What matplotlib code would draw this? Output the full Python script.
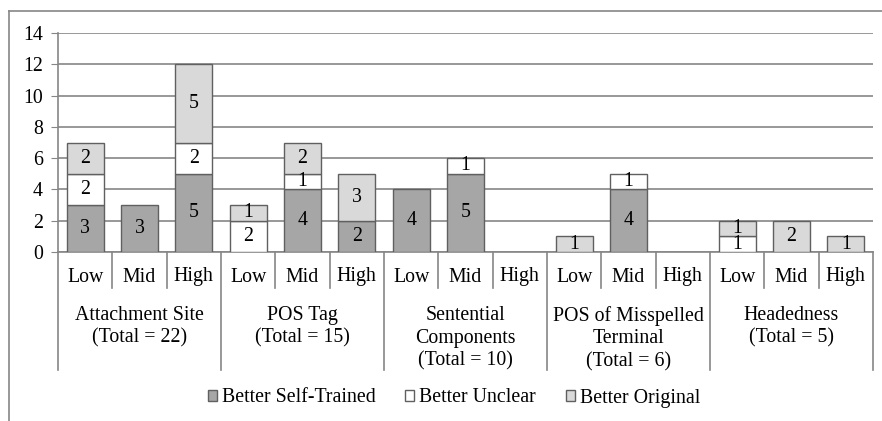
import numpy as np
import matplotlib.pyplot as plt
from matplotlib.lines import Line2D
import matplotlib.transforms as mtransforms

plt.rcParams['font.family'] = ['Liberation Serif', 'DejaVu Serif']

# data
groups = ["Attachment Site\n(Total = 22)", "POS Tag\n(Total = 15)",
          "Sentential\nComponents\n(Total = 10)", "POS of Misspelled\nTerminal\n(Total = 6)",
          "Headedness\n(Total = 5)"]
levels = ["Low", "Mid", "High"]
self_trained = [3, 3, 5, 0, 4, 2, 4, 5, 0, 0, 4, 0, 0, 0, 0]
unclear = [2, 0, 2, 2, 1, 0, 0, 1, 0, 0, 1, 0, 1, 0, 0]
original = [2, 0, 5, 1, 2, 3, 0, 0, 0, 1, 0, 0, 1, 2, 1]
series_names = ["Better Self-Trained", "Better Unclear", "Better Original"]
colors = ["#a6a6a6", "#ffffff", "#d9d9d9"]

W, H = 882, 421
fig = plt.figure(figsize=(W / 100, H / 100), dpi=100)
ax = fig.add_axes([58 / W, 1 - 252 / H, (873 - 58) / W, (252 - 33) / H])

fs = 14.3
gray = "#868686"
edge = "#606060"
x = np.arange(len(self_trained))
bottom = np.zeros(len(x))
for vals, col, name in zip([self_trained, unclear, original], colors, series_names):
    vals = np.array(vals, dtype=float)
    heights = np.where(vals > 0, vals, np.nan)  # skip empty segments
    ax.bar(x, heights, 0.68, bottom=bottom, color=col, edgecolor=edge, linewidth=1.0,
           label=name, zorder=3)
    for xi, b, v in zip(x, bottom, vals):
        if v > 0:
            ax.text(xi, b + v / 2, str(int(v)), ha="center", va="center", fontsize=fs, zorder=4)
    bottom = bottom + vals

ax.set_xlim(-0.5, len(x) - 0.5)
ax.set_ylim(0, 14)
ax.set_yticks(range(0, 15, 2))
ax.yaxis.grid(True, color=gray, linewidth=1.2)
ax.set_axisbelow(True)
ax.tick_params(axis="y", length=5, color=gray, labelsize=fs, pad=6)
ax.set_xticks([])
for s in ["top", "right"]:
    ax.spines[s].set_visible(False)
for s in ["left", "bottom"]:
    ax.spines[s].set_color(gray)
    ax.spines[s].set_linewidth(1.2)

# category axis: level labels, group labels and separators
trans = mtransforms.blended_transform_factory(ax.transData, ax.transAxes)
ah = 252 - 33
def yfrac(py):
    return (252 - py) / ah

for i, xi in enumerate(x):
    ax.text(xi, yfrac(277), levels[i % 3], ha="center", va="center", fontsize=fs,
            transform=trans)
for b in np.arange(len(x) + 1) - 0.5:
    if (b + 0.5) % 3 == 0:
        y_end = yfrac(370)
    else:
        y_end = yfrac(288)
    ax.plot([b, b], [0, y_end], color=gray, linewidth=1.2, transform=trans, clip_on=False)
for g, name in enumerate(groups):
    ax.text(g * 3 + 1, yfrac(306), name, ha="center", va="top", fontsize=fs,
            linespacing=1.25, transform=trans)

fig.legend(loc="center", bbox_to_anchor=(454 / W, 1 - 398 / H), ncol=3, frameon=False,
           fontsize=fs, handlelength=0.45, handleheight=0.45, handletextpad=0.25,
           columnspacing=1.5)

# outer chart border (top and left visible)
fig.add_artist(Line2D([8.5 / W, 8.5 / W], [0, 1 - 11 / H], color=gray, linewidth=1.2))
fig.add_artist(Line2D([8.5 / W, 1], [1 - 11 / H, 1 - 11 / H], color=gray, linewidth=1.2))

fig.savefig("out.png", dpi=100)
